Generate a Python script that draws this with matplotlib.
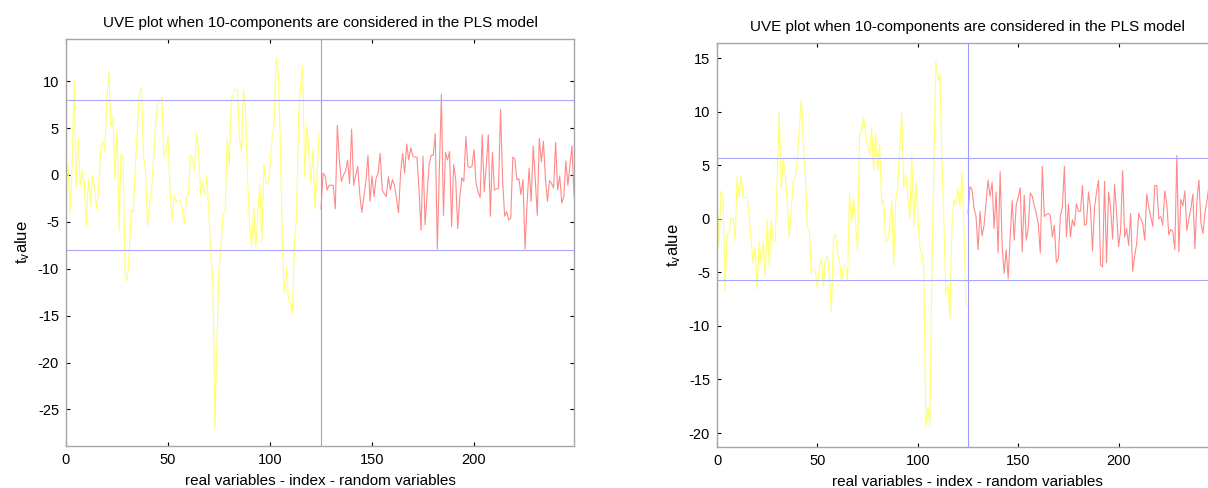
import numpy as np
from matplotlib import pyplot as plt

plt.rcParams['font.family'] = ['Liberation Sans', 'DejaVu Sans']
plt.rcParams['axes.unicode_minus'] = False

# left panel: t-values of the real variables (0..124) and random variables (125..249)
left_real = [-1.4, 1.1, -4.1, 1.0, 10.0, -1.4, 3.9, -1.2, 0.5, -1.0,
             -5.5, -0.4, -3.2, 0.0, -1.4, -3.6, -1.4, 2.8, 3.6, 2.5,
             8.0, 11.0, 5.2, 6.0, -0.4, 4.8, -5.9, 2.3, 1.6, -10.7,
             -11.3, -8.2, -3.7, -4.0, 1.1, 5.0, 8.9, 9.3, 2.0, 0.4,
             -5.5, -3.0, -1.4, 2.0, 5.7, 7.7, 8.0, 8.3, 2.0, 2.7,
             4.1, -1.8, -4.8, -2.1, -2.9, -2.6, -2.8, -3.5, -5.2, -2.5,
             -2.0, 2.1, 1.8, 0.4, 4.4, 2.3, -2.1, -0.7, -2.1, -0.1,
             -4.0, -8.5, -11.4, -26.9, -17.4, -10.3, -7.5, -4.3, -3.9, 3.9,
             1.1, 8.0, 8.7, 9.1, 9.1, 3.9, 2.5, 9.1, 6.9, -0.4,
             -5.3, -7.7, -3.4, -7.9, -4.0, -0.9, -7.2, 1.2, -0.9, -0.9,
             1.0, 3.9, 5.3, 12.5, 11.0, 3.9, -6.8, -12.6, -9.8, -13.2,
             -13.7, -14.8, -6.8, -4.6, 6.4, 9.6, 11.6, -0.2, 5.2, 2.5,
             -0.9, 2.7, -3.6, -0.4, 4.4]
left_rand = [-3.6, 0.2, -0.1, -1.6, -1.1, -1.1, -1.1, -3.6, 5.3, 1.6,
             -0.7, 0.0, 0.4, 1.6, -0.9, 4.9, -1.1, 0.0, 0.9, -2.1,
             -4.0, -2.3, -0.7, 2.1, -2.8, -0.1, -2.3, -0.3, 0.2, 2.3,
             -1.6, -2.0, -2.3, -0.2, -1.6, -0.5, -1.1, -2.5, -4.0, 0.2,
             2.3, 0.2, 3.3, 1.6, 2.9, 2.0, 1.9, 1.9, -1.4, -5.9,
             2.0, -5.3, -2.0, 1.1, 2.1, 2.1, 4.4, -7.9, 0.5, 8.6,
             -4.3, 2.4, 1.6, 2.5, -5.5, 1.1, -0.4, -5.7, -2.5, -0.3,
             -0.7, 4.1, 0.9, 0.8, 0.9, 2.7, -0.9, -1.8, -2.4, 4.3,
             -1.8, 1.0, 4.3, -4.4, 2.4, -1.6, -1.5, -1.4, 7.0, -0.5,
             -4.4, -3.9, -4.8, -4.6, 1.9, 1.7, -0.5, -0.4, -2.1, -0.5,
             -7.9, -3.0, 0.7, -2.8, 3.1, -0.4, -4.3, 3.9, 1.4, 3.6,
             -0.4, -2.8, -0.6, -0.9, -1.4, 3.5, -1.6, -0.1, -3.0, -2.3,
             1.5, -1.1, 1.0, 3.1, -2.1]
left_cut = 8.0

# right panel
right_real = [2.2, -2.6, 2.6, 2.0, -6.7, -1.5, -1.4, 0.0, 0.1, -2.1,
              3.9, 2.0, 4.0, 2.0, 2.0, 2.0, 0.2, -2.0, -4.2, -2.6,
              -6.6, -2.1, -4.2, -2.1, -5.4, -0.1, -4.4, 0.0, -2.1, -2.0,
              3.8, 10.0, 2.8, 5.5, 4.1, 1.5, -1.8, 1.0, 3.5, 3.9,
              5.6, 8.5, 11.1, 7.0, 4.2, -0.7, -1.2, -5.1, -4.7, -4.8,
              -6.5, -4.5, -3.7, -6.5, -3.8, -3.5, -5.5, -8.7, -1.7, -1.4,
              -3.1, -4.0, -5.9, -4.5, -4.3, -5.7, 2.4, -0.4, 1.9, -0.5,
              -2.9, 7.8, 8.3, 9.4, 8.0, 6.7, 6.0, 8.5, 4.6, 8.0,
              4.5, 6.9, 1.4, 1.7, -2.1, -2.0, -0.5, 1.7, -4.4, 1.7,
              3.0, 6.5, 9.9, 3.0, 4.2, 2.1, 0.0, 6.1, -0.7, 3.4,
              0.2, -2.6, -3.2, -4.8, -19.4, -17.6, -19.3, -5.1, 5.0, 14.7,
              12.8, 13.6, 5.8, -0.4, -7.0, -6.2, -9.3, -0.7, 1.7, 1.3,
              2.8, 1.2, 4.4, -1.4, -8.1]
right_rand = [0.5, 3.0, 2.7, 1.0, 0.2, -2.9, 0.7, -1.6, -0.6, 1.5,
              3.6, 2.1, 3.4, -0.9, 2.5, -3.2, 4.4, -2.5, -5.1, -2.9,
              -5.6, -1.7, 1.7, -2.0, 1.3, 2.0, 2.9, -3.1, 2.2, -2.0,
              -0.9, 2.4, 2.1, 1.2, 0.5, -0.5, -3.2, 4.9, 0.2, 0.4,
              0.5, 0.3, -1.7, -0.6, -4.1, -3.7, 0.3, 1.1, 4.9, -1.7,
              1.4, -1.7, -0.1, -0.7, 1.4, 0.7, 0.7, 3.1, -0.6, -0.5,
              2.5, 1.0, -3.0, 1.0, 2.5, 3.6, -4.3, -4.5, 3.5, -4.1,
              2.5, 1.1, -1.9, 3.2, 0.5, -2.6, -1.1, 4.5, -1.7, -0.9,
              -2.5, 0.5, -4.9, -3.5, -2.3, 0.5, 0.0, -0.4, -2.0, 2.3,
              1.1, 0.2, -0.7, 3.1, 3.1, 0.0, 0.2, -0.6, 2.6, 1.4,
              -1.5, -1.0, -1.2, -2.9, 5.9, -3.1, 1.8, 1.2, 2.6, -1.1,
              0.0, 1.0, 2.3, -2.8, 1.7, 3.6, -0.4, -1.4, 0.5, 1.7,
              3.1, -4.6, 1.0, 2.0, -1.0]
right_cut = 5.7

n_real = 125
title = 'UVE plot when 10-components are considered in the PLS model'
xlab = 'real variables - index - random variables'


def uve_panel(ax, real, rand, cut, ylim, yticks):
    x1 = np.arange(len(real))
    x2 = np.arange(len(rand)) + n_real
    ax.plot(x1, real, color='#ffff70', lw=0.8)
    ax.plot(x2, rand, color='#ff8a8a', lw=0.8)
    ax.axvline(n_real, color='#9a9aff', lw=0.8)
    ax.axhline(cut, color='#a8a8ff', lw=0.8)
    ax.axhline(-cut, color='#a8a8ff', lw=0.8)
    ax.set_xlim(0, 249)
    ax.set_ylim(*ylim)
    ax.set_xticks([0, 50, 100, 150, 200])
    ax.set_yticks(yticks)
    ax.tick_params(direction='in', length=3, width=0.8, top=True, right=True,
                   labelsize=10.5, pad=5, colors='black')
    for s in ax.spines.values():
        s.set_color('#a6a6a6')
        s.set_linewidth(1.0)
    ax.set_title(title, fontsize=11, pad=9)
    ax.set_xlabel(xlab, fontsize=11, labelpad=5)
    ax.set_ylabel(r'$\mathregular{t_{v}alue}$', fontsize=12, labelpad=4)


fig = plt.figure(figsize=(12.08, 4.88), dpi=100)
ax1 = fig.add_axes([66 / 1208, 42 / 488, 508 / 1208, 407 / 488])
ax2 = fig.add_axes([717 / 1208, 41 / 488, 500 / 1208, 404 / 488])

uve_panel(ax1, left_real, left_rand, left_cut, (-28.9, 14.5), [-25, -20, -15, -10, -5, 0, 5, 10])
uve_panel(ax2, right_real, right_rand, right_cut, (-21.3, 16.4), [-20, -15, -10, -5, 0, 5, 10, 15])

fig.savefig('out.png', dpi=100)
